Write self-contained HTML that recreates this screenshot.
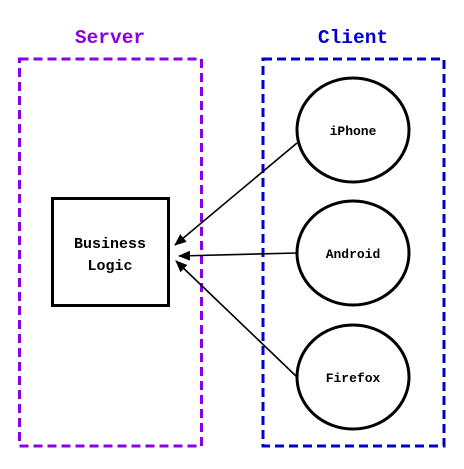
<!DOCTYPE html>
<html><head><style>html,body{margin:0;padding:0;background:#fff;}</style></head>
<body>
<svg width="464" height="464" viewBox="0 0 464 464" xmlns="http://www.w3.org/2000/svg">
<defs><marker id="a" markerWidth="12" markerHeight="10" refX="11" refY="5" orient="auto" markerUnits="userSpaceOnUse"><path d="M0,0 L12,5 L0,10 z" fill="#000"/></marker></defs>
<rect x="19.5" y="59" width="182" height="387" fill="none" stroke="#8a00e6" stroke-width="3" stroke-dasharray="9,5"/>
<rect x="263" y="59" width="181" height="387" fill="none" stroke="#0000cc" stroke-width="3" stroke-dasharray="9,5"/>
<g font-family="Liberation Mono, monospace" font-weight="bold" text-anchor="middle">
<text x="110" y="43" font-size="19.5" fill="#8a00e6">Server</text>
<text x="353" y="43" font-size="19.5" fill="#0000cc">Client</text>
</g>
<rect x="52.5" y="198.5" width="116" height="107" fill="none" stroke="#000" stroke-width="3"/>
<ellipse cx="353" cy="130" rx="56" ry="52" fill="none" stroke="#000" stroke-width="3"/>
<ellipse cx="353" cy="253" rx="56" ry="52" fill="none" stroke="#000" stroke-width="3"/>
<ellipse cx="353" cy="377" rx="56" ry="52" fill="none" stroke="#000" stroke-width="3"/>
<g stroke="#000" stroke-width="1.6">
<line x1="297" y1="143" x2="175" y2="245" marker-end="url(#a)"/>
<line x1="297" y1="253" x2="179" y2="256" marker-end="url(#a)"/>
<line x1="297" y1="377" x2="176" y2="261" marker-end="url(#a)"/>
</g>
<g font-family="Liberation Mono, monospace" font-weight="bold" text-anchor="middle" fill="#000">
<text x="110" y="248" font-size="15">Business</text>
<text x="110" y="270" font-size="15">Logic</text>
<text x="353" y="135" font-size="13">iPhone</text>
<text x="353" y="258" font-size="13">Android</text>
<text x="353" y="382" font-size="13">Firefox</text>
</g>
</svg>
</body></html>
